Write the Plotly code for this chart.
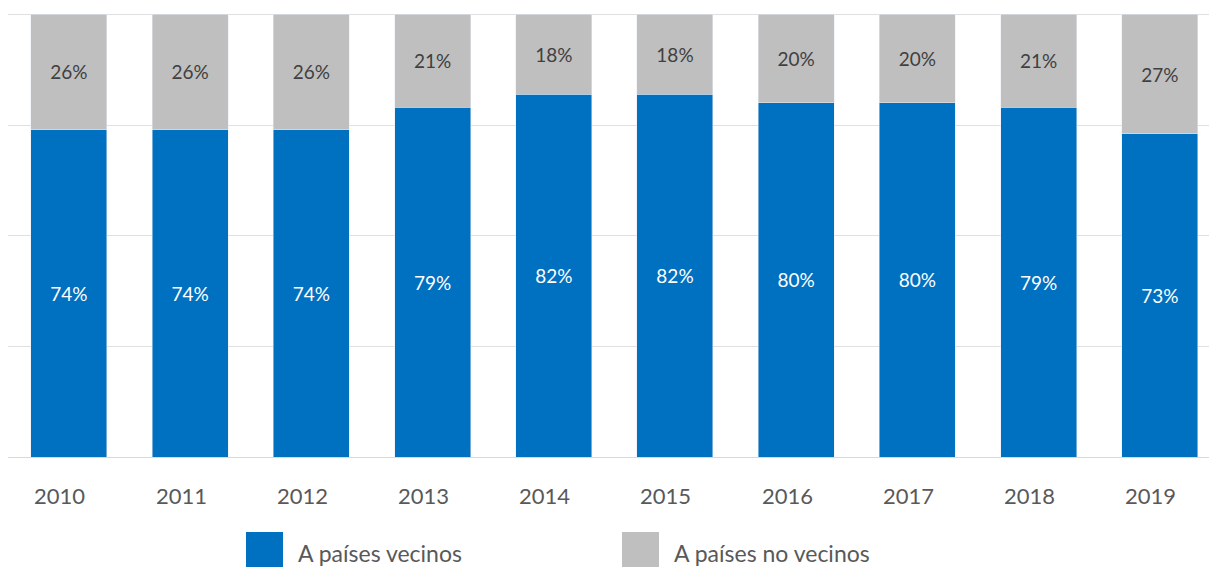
import plotly.graph_objects as go

years = ["2010", "2011", "2012", "2013", "2014", "2015", "2016", "2017", "2018", "2019"]
vecinos = [74, 74, 74, 79, 82, 82, 80, 80, 79, 73]
no_vecinos = [26, 26, 26, 21, 18, 18, 20, 20, 21, 27]
series_names = ["A países vecinos", "A países no vecinos"]
colors = ["#0070C0", "#BFBFBF"]

FONT = "Lato, 'Open Sans', sans-serif"

fig = go.Figure()
fig.add_trace(go.Bar(
    x=years, y=vecinos, name=series_names[0], marker_color=colors[0],
    text=[f"{v}%" for v in vecinos], textposition="inside", insidetextanchor="middle",
    textfont=dict(color="white", size=19, family=FONT), showlegend=False,
))
fig.add_trace(go.Bar(
    x=years, y=no_vecinos, name=series_names[1], marker_color=colors[1],
    text=[f"{v}%" for v in no_vecinos], textposition="inside", insidetextanchor="middle",
    textfont=dict(color="#404040", size=19, family=FONT), showlegend=False,
))

W, H = 1209, 567
ml, mr, mt, mb = 8, 0, 10, 110
pw, ph = W - ml - mr, H - mt - mb

def px_x(x):
    return (x - ml) / pw

def px_y(y):
    return (H - mb - y) / ph

shapes = []
annotations = []
legend_items = [(246, 296), (622, 672)]
for (sq_x, tx), name, col in zip(legend_items, series_names, colors):
    shapes.append(dict(type="rect", xref="paper", yref="paper",
                       x0=px_x(sq_x), x1=px_x(sq_x + 37), y0=px_y(567), y1=px_y(532),
                       fillcolor=col, line=dict(width=0)))
    annotations.append(dict(xref="paper", yref="paper", x=px_x(tx), y=px_y(553),
                            xanchor="left", yanchor="middle", text=name, showarrow=False,
                            font=dict(size=23, color="#595959", family=FONT)))

# category labels, placed slightly left of the bar centres as in the reference
for i, yr in enumerate(years):
    annotations.append(dict(xref="x", yref="paper", x=i, y=px_y(495), xshift=-9,
                            xanchor="center", yanchor="middle", text=yr, showarrow=False,
                            font=dict(size=22, color="#595959", family=FONT)))

fig.update_layout(
    width=W, height=H,
    barmode="stack", bargap=0.373,
    margin=dict(l=ml, r=mr, t=mt, b=mb),
    plot_bgcolor="white", paper_bgcolor="white",
    font=dict(family=FONT, color="#595959"),
    xaxis=dict(type="category", showticklabels=False, showgrid=False, range=[-0.503, 9.406],
               showline=True, linecolor="#D9D9D9", linewidth=1, ticks=""),
    yaxis=dict(range=[0, 101], dtick=25, showticklabels=False, gridcolor="#E0E0E0",
               gridwidth=1, zeroline=False),
    shapes=shapes, annotations=annotations,
    showlegend=False,
)

fig.write_html("out.html", config={"displayModeBar": False},
               post_script="document.body.style.margin='0';document.body.style.overflow='hidden';")
